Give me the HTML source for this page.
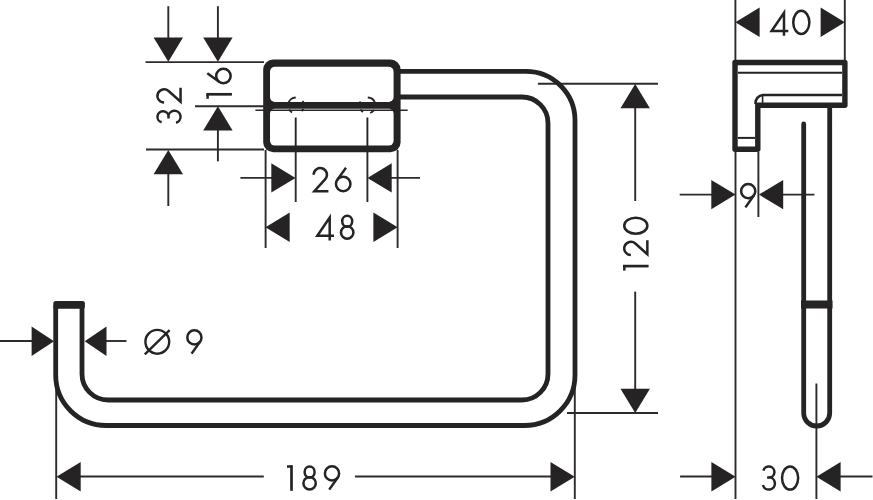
<!DOCTYPE html>
<html><head><meta charset="utf-8"><title>Towel ring dimensions</title>
<style>
html,body{margin:0;padding:0;background:#fff;}
body{width:873px;height:500px;overflow:hidden;font-family:"Liberation Sans",sans-serif;}
svg{display:block;}
</style></head><body>
<svg width="873" height="500" viewBox="0 0 873 500"><g stroke="#2c2a2a" fill="none" stroke-linecap="butt"><line x1="168.3" y1="6.2" x2="168.3" y2="45" stroke-width="1.9"/><line x1="217.9" y1="6.2" x2="217.9" y2="45" stroke-width="1.9"/><line x1="145.6" y1="62.1" x2="264" y2="62.1" stroke-width="1.9"/><line x1="195" y1="106.2" x2="264" y2="106.2" stroke-width="1.9"/><line x1="217.9" y1="120" x2="217.9" y2="161.3" stroke-width="1.9"/><line x1="146" y1="149.5" x2="264" y2="149.5" stroke-width="1.9"/><line x1="168.3" y1="165" x2="168.3" y2="206" stroke-width="1.9"/><line x1="255.4" y1="110.2" x2="407.7" y2="110.2" stroke-width="1.6"/><line x1="265.6" y1="150" x2="265.6" y2="248" stroke-width="1.9"/><line x1="397.6" y1="150" x2="397.6" y2="248" stroke-width="1.9"/><line x1="295.7" y1="117.5" x2="295.7" y2="202" stroke-width="1.9"/><line x1="367.4" y1="117.5" x2="367.4" y2="202" stroke-width="1.9"/><line x1="240.4" y1="177.9" x2="280" y2="177.9" stroke-width="1.9"/><line x1="380" y1="177.9" x2="420" y2="177.9" stroke-width="1.9"/><line x1="537.9" y1="83.8" x2="658" y2="83.8" stroke-width="1.9"/><line x1="567" y1="413" x2="658" y2="413" stroke-width="1.9"/><line x1="635.2" y1="100" x2="635.2" y2="201" stroke-width="1.9"/><line x1="635.2" y1="291.6" x2="635.2" y2="400" stroke-width="1.9"/><line x1="0" y1="341" x2="40" y2="341" stroke-width="1.9"/><line x1="100" y1="341" x2="126.5" y2="341" stroke-width="1.9"/><line x1="56.2" y1="386" x2="56.2" y2="499" stroke-width="1.9"/><line x1="574.8" y1="380" x2="574.8" y2="499" stroke-width="1.9"/><line x1="70" y1="476.5" x2="263.8" y2="476.5" stroke-width="1.9"/><line x1="355" y1="476.5" x2="560" y2="476.5" stroke-width="1.9"/><line x1="735.4" y1="0" x2="735.4" y2="60" stroke-width="1.9"/><line x1="844.8" y1="0" x2="844.8" y2="60" stroke-width="1.9"/><line x1="735.5" y1="152" x2="735.5" y2="499" stroke-width="1.9"/><line x1="758.4" y1="152" x2="758.4" y2="217" stroke-width="1.9"/><line x1="679.7" y1="194.6" x2="730" y2="194.6" stroke-width="1.9"/><line x1="765" y1="194.6" x2="814.4" y2="194.6" stroke-width="1.9"/><line x1="680.1" y1="476.5" x2="730" y2="476.5" stroke-width="1.9"/><line x1="822" y1="476.5" x2="872.5" y2="476.5" stroke-width="1.9"/><line x1="816.4" y1="383.5" x2="816.4" y2="499" stroke-width="1.9"/></g>
<g fill="#252323"><polygon points="168.3,61.8 153.6,37.6 183,37.6"/><polygon points="217.9,61.8 203.2,37.6 232.6,37.6"/><polygon points="217.9,106.2 203.2,130.4 232.6,130.4"/><polygon points="168.3,150 153.6,174.2 183,174.2"/><polygon points="295.5,177.9 271.3,163.2 271.3,192.6"/><polygon points="367.5,177.9 391.7,163.2 391.7,192.6"/><polygon points="265.5,227.2 289.7,212.5 289.7,241.9"/><polygon points="397.6,227.2 373.4,212.5 373.4,241.9"/><polygon points="635.2,84 620.5,108.2 649.9,108.2"/><polygon points="635.2,413 620.5,388.8 649.9,388.8"/><polygon points="54,341.2 31.6,326.5 31.6,355.9"/><polygon points="84.7,341.2 106.5,326.5 106.5,355.9"/><polygon points="56.5,476.8 80.7,462.1 80.7,491.5"/><polygon points="574.7,476.8 550.5,462.1 550.5,491.5"/><polygon points="735.4,22.2 759.6,7.5 759.6,36.9"/><polygon points="844.8,22.2 820.6,7.5 820.6,36.9"/><polygon points="735.5,194.6 711.3,179.9 711.3,209.3"/><polygon points="759,194.6 783.2,179.9 783.2,209.3"/><polygon points="735.6,476.7 711.4,462 711.4,491.4"/><polygon points="816.4,476.7 840.6,462 840.6,491.4"/></g>
<g stroke="#252323" fill="none" stroke-width="4.8"><path d="M398,71.4 H526 A49,49 0 0 1 575,120.4 V375 A50.5,50.5 0 0 1 524.5,425.5 H106.2 A50.5,50.5 0 0 1 55.7,375 V306"/><path d="M396,97 H522 A26,26 0 0 1 548,123 V374 A26,26 0 0 1 522,400 H108 A26,26 0 0 1 82,374 V306"/></g><rect x="53.3" y="301" width="31.6" height="7.8" rx="2.5" fill="#252323"/>
<rect x="263.2" y="59.6" width="137.4" height="92.6" rx="10" fill="#252323"/><rect x="270" y="66.8" width="123.6" height="35.2" rx="5" fill="#fff"/><rect x="270" y="108.8" width="123.6" height="36.8" rx="5" fill="#fff"/><g stroke="#252323" fill="none"><line x1="263" y1="110.2" x2="400" y2="110.2" stroke-width="1.6"/><line x1="295.7" y1="117.5" x2="295.7" y2="146" stroke-width="1.9"/><line x1="367.4" y1="117.5" x2="367.4" y2="146" stroke-width="1.9"/><path d="M288.12,104.11 A8,8 0 0 1 295.72,97.5" stroke-width="1.8"/><path d="M302.55,100.91 A8,8 0 0 1 303.73,103.43" stroke-width="1.8"/><path d="M292,112.43 A8,8 0 0 1 289.07,109.5" stroke-width="1.8"/><path d="M303.25,108.88 A8,8 0 0 1 301.66,111.16" stroke-width="1.8"/><path d="M367.78,97.5 A8,8 0 0 1 375.02,102.76" stroke-width="1.8"/><path d="M374.05,110.09 A8,8 0 0 1 370.24,113.02" stroke-width="1.8"/><path d="M362.91,112.05 A8,8 0 0 1 360.57,109.5" stroke-width="1.8"/><path d="M359.77,103.43 A8,8 0 0 1 360.57,101.5" stroke-width="1.8"/></g>
<g stroke="#252323" fill="none"><path d="M735,62.5 H844.9 V105.3 H757.8 V149.3 H735 Z" stroke-width="5.4" stroke-linejoin="round"/><line x1="738" y1="72.8" x2="842" y2="72.8" stroke-width="2"/><path d="M842,95 H763 A8,8 0 0 0 755.6,104" stroke-width="2.6"/><line x1="762.6" y1="95" x2="762.6" y2="104" stroke-width="1.6"/><line x1="738" y1="137.9" x2="755" y2="137.9" stroke-width="2"/><path d="M803.7,124 V413 A13,13 0 0 0 829.7,413 V108" stroke-width="4.8" stroke-linecap="round"/></g><rect x="801" y="300.5" width="31.5" height="8" fill="#252323"/>
<g stroke="#252323" fill="none" stroke-width="2.5" stroke-linecap="butt"><g transform="translate(156.2,124.8) rotate(-90)"><g transform="translate(0,0)"><path d="M2.49,5.4 A5.6,5.6 0 1 1 7.9,12.45 M7.9,12.15 A6.1,6.1 0 1 1 2.01,19.83 M8.0,12.3 H6.2"/></g><g transform="translate(21,0)"><path d="M1.25,7.9 A6.65,6.65 0 1 1 12.83,12.36 L2.0,24.35 H16" stroke-linejoin="miter"/></g></g><g transform="translate(206.3,98.8) rotate(-90)"><g transform="translate(0,0)"><path d="M4.5,0 V25.6" stroke-width="2.7"/><path d="M0,1.3 H4.5"/></g><g transform="translate(14.2,0)"><circle cx="8.6" cy="17.1" r="7.25"/><path d="M11.4,1 L2.75,12.82"/></g></g><g transform="translate(312.4,166.8)"><g transform="translate(0,0)"><path d="M1.25,7.9 A6.65,6.65 0 1 1 12.83,12.36 L2.0,24.35 H16" stroke-linejoin="miter"/></g><g transform="translate(22.2,0)"><circle cx="8.6" cy="17.1" r="7.25"/><path d="M11.4,1 L2.75,12.82"/></g></g><g transform="translate(316,214.4)"><g transform="translate(0,0)"><path d="M13.7,26.2 V3.2 L1.3,21.4 H18" stroke-linejoin="miter" stroke-miterlimit="10"/></g><g transform="translate(23.6,0)"><ellipse cx="7.6" cy="6.75" rx="5.0" ry="5.5"/><ellipse cx="7.6" cy="18.15" rx="6.2" ry="6.2"/></g></g><g transform="translate(623,270.6) rotate(-90)"><g transform="translate(0,0)"><path d="M4.5,0 V25.6" stroke-width="2.7"/><path d="M0,1.3 H4.5"/></g><g transform="translate(14.3,0)"><path d="M1.25,7.9 A6.65,6.65 0 1 1 12.83,12.36 L2.0,24.35 H16" stroke-linejoin="miter"/></g><g transform="translate(35.6,0)"><ellipse cx="9.3" cy="12.8" rx="8.05" ry="11.55"/></g></g><g transform="translate(144,329.2)"><g transform="translate(0,0)"><circle cx="13.3" cy="12.6" r="11.9" stroke-width="2.4"/><path d="M0.8,25.1 L25.6,1" stroke-width="2.4"/></g></g><g transform="translate(186,329.2)"><g transform="translate(0,0)"><circle cx="8.4" cy="8.2" r="7.1"/><path d="M14.19,12.31 L5.6,24.4"/></g></g><g transform="translate(287,465.2)"><g transform="translate(0,0)"><path d="M4.5,0 V25.6" stroke-width="2.7"/><path d="M0,1.3 H4.5"/></g><g transform="translate(15,0)"><ellipse cx="7.6" cy="6.75" rx="5.0" ry="5.5"/><ellipse cx="7.6" cy="18.15" rx="6.2" ry="6.2"/></g><g transform="translate(36.6,0)"><circle cx="8.4" cy="8.2" r="7.1"/><path d="M14.19,12.31 L5.6,24.4"/></g></g><g transform="translate(770.3,9.6)"><g transform="translate(0,0)"><path d="M13.7,26.2 V3.2 L1.3,21.4 H18" stroke-linejoin="miter" stroke-miterlimit="10"/></g><g transform="translate(21.7,0)"><ellipse cx="9.3" cy="12.8" rx="8.05" ry="11.55"/></g></g><g transform="translate(739.8,183)"><g transform="translate(0,0)"><circle cx="8.4" cy="8.2" r="7.1"/><path d="M14.19,12.31 L5.6,24.4"/></g></g><g transform="translate(760.9,465.2)"><g transform="translate(0,0)"><path d="M2.49,5.4 A5.6,5.6 0 1 1 7.9,12.45 M7.9,12.15 A6.1,6.1 0 1 1 2.01,19.83 M8.0,12.3 H6.2"/></g><g transform="translate(19.9,0)"><ellipse cx="9.3" cy="12.8" rx="8.05" ry="11.55"/></g></g></g></svg>
</body></html>
